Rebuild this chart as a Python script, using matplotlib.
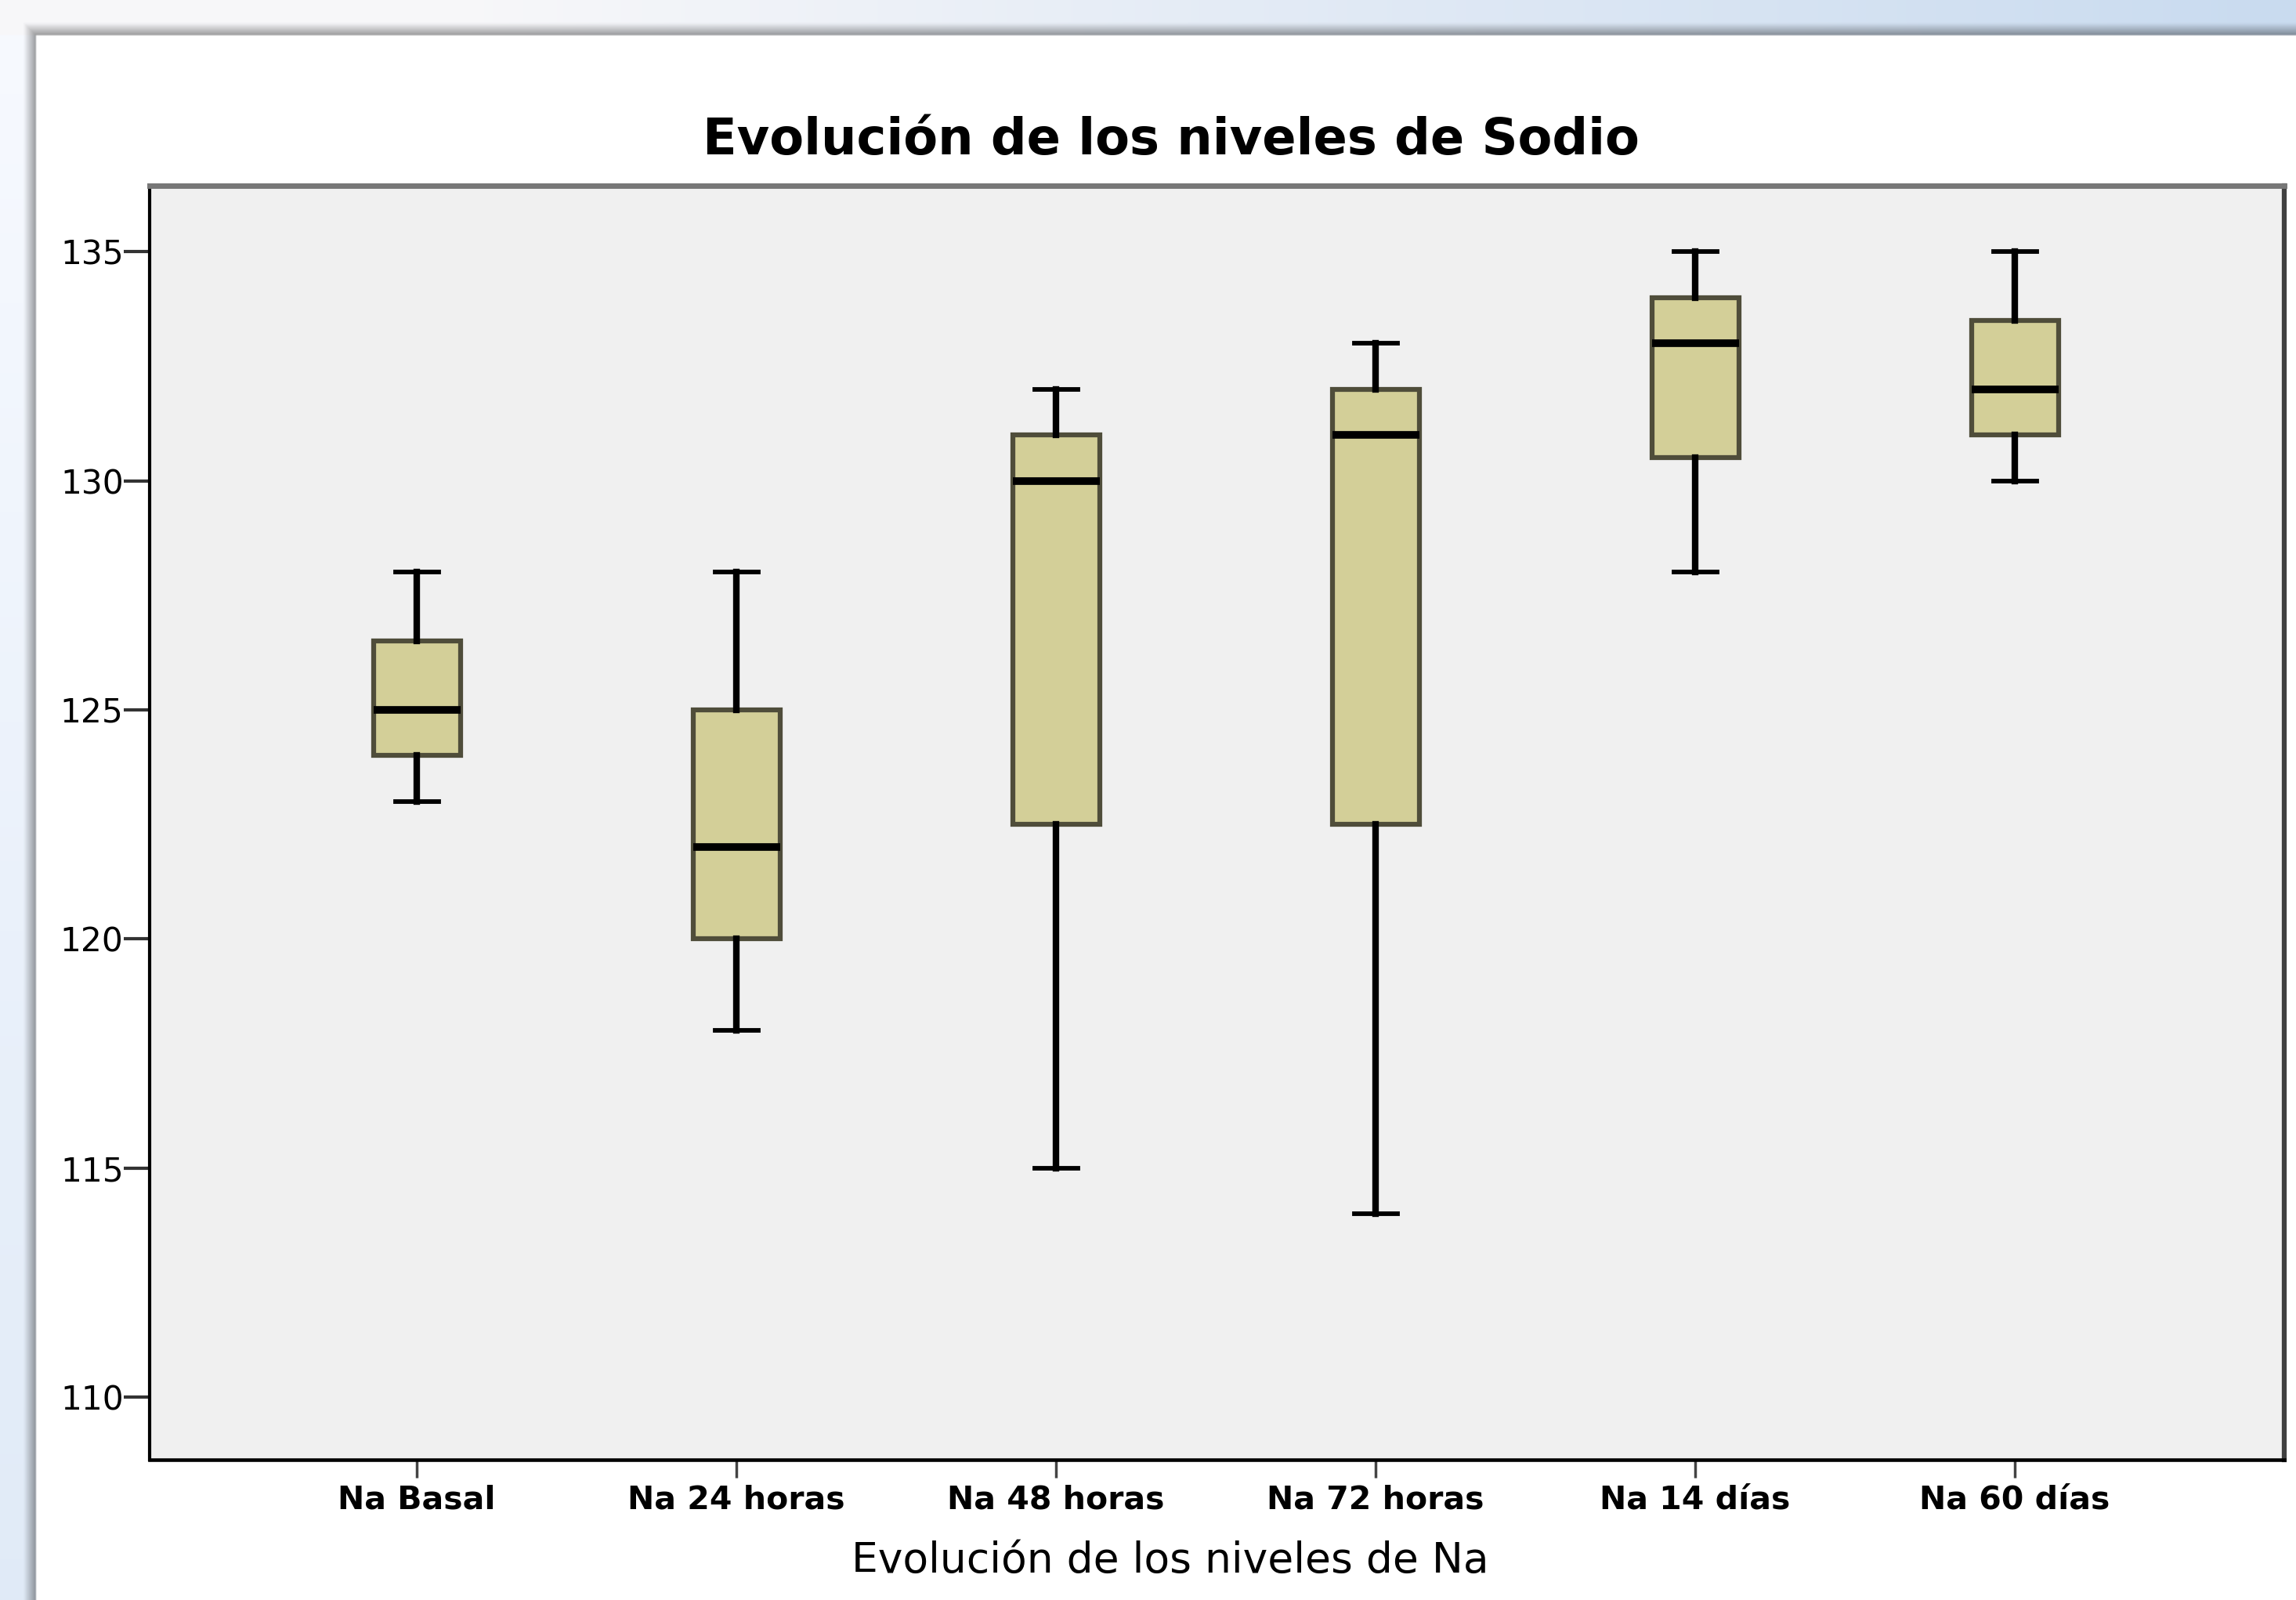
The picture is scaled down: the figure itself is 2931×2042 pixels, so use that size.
import numpy as np
import matplotlib
matplotlib.use("Agg")
import matplotlib.pyplot as plt

# box statistics
categories = ["Na Basal", "Na 24 horas", "Na 48 horas", "Na 72 horas", "Na 14 días", "Na 60 días"]
whisker_low = [123, 118, 115, 114, 128, 130]
q1 = [124, 120, 122.5, 122.5, 130.5, 131]
median = [125, 122, 130, 131, 133, 132]
q3 = [126.5, 125, 131, 132, 134, 133.5]
whisker_high = [128, 128, 132, 133, 135, 135]
y_ticks = [110, 115, 120, 125, 130, 135]

W, H = 2931, 2042
fig = plt.figure(figsize=(W / 100, H / 100), dpi=100)

# window background: blue-ish frame with a soft shadow round the white panel
bg = fig.add_axes([0, 0, 1, 1], zorder=-10)
step = 2
xs = np.arange(0, W, step)[None, :].astype(float)
ys = np.arange(0, H, step)[:, None].astype(float)
t = np.clip((xs - 600) / 2300, 0, 1)[..., None]
top_col = np.array([0.97, 0.97, 0.98]) * (1 - t) + np.array([0.79, 0.86, 0.94]) * t
s = (ys / H)[..., None]
left_col = np.array([0.97, 0.98, 1.0]) * (1 - s) + np.array([0.88, 0.92, 0.97]) * s
img = np.ones((ys.shape[0], xs.shape[1], 3))
img[:] = np.where((ys < 45)[..., None], top_col * np.ones_like(img), left_col * np.ones_like(img))
dist = np.maximum(np.maximum(45 - xs, 45 - ys), 0)
shade = np.clip(1 - dist / 16, 0, 1) * 0.38
img = img * (1 - shade[..., None])
panel = (xs >= 45) & (ys >= 45)
img[panel] = 1.0
bg.imshow(img, extent=(0, W, H, 0), aspect="auto", interpolation="bilinear")
bg.set_xlim(0, W)
bg.set_ylim(H, 0)
bg.axis("off")

ax = fig.add_axes([191 / W, 1 - 1863 / H, (2916 - 191) / W, (1863 - 237) / H])
ax.set_facecolor("#f0f0f0")

stats = []
for i in range(len(categories)):
    stats.append({"label": categories[i], "whislo": whisker_low[i], "q1": q1[i],
                  "med": median[i], "q3": q3[i], "whishi": whisker_high[i], "fliers": []})

positions = np.arange(len(categories))
ax.bxp(stats, positions=positions, widths=0.272, patch_artist=True, showfliers=False,
       boxprops=dict(facecolor="#d3cf98", edgecolor="#4f4d3a", linewidth=4.5),
       medianprops=dict(color="black", linewidth=7, solid_capstyle="butt"),
       whiskerprops=dict(color="black", linewidth=6),
       capprops=dict(color="black", linewidth=4.2),
       capwidths=0.135)

ax.set_xlim(-0.836, 5.843)
ax.set_ylim(108.63, 136.44)
ax.set_yticks(y_ticks)
ax.set_yticklabels([str(v) for v in y_ticks], fontsize=30.5)
ax.set_xticks(positions)
ax.set_xticklabels(categories, fontsize=29.5, fontweight="bold")
ax.tick_params(axis="y", direction="out", length=24, width=3, color="#333333", pad=0)
ax.tick_params(axis="x", direction="out", length=16.5, width=2.5, color="#444444", pad=6)

ax.spines["top"].set_color("#777777")
ax.spines["top"].set_linewidth(5)
ax.spines["right"].set_color("#404040")
ax.spines["right"].set_linewidth(4.5)
ax.spines["left"].set_color("black")
ax.spines["left"].set_linewidth(3)
ax.spines["bottom"].set_color("black")
ax.spines["bottom"].set_linewidth(3.3)

fig.text(1495 / W, 1 - 197 / H, "Evolución de los niveles de Sodio", fontsize=46,
         fontweight="bold", ha="center", va="baseline")
fig.text(1494 / W, 1 - 2007 / H, "Evolución de los niveles de Na", fontsize=38.5,
         ha="center", va="baseline")

fig.savefig("out.png", dpi=100)
